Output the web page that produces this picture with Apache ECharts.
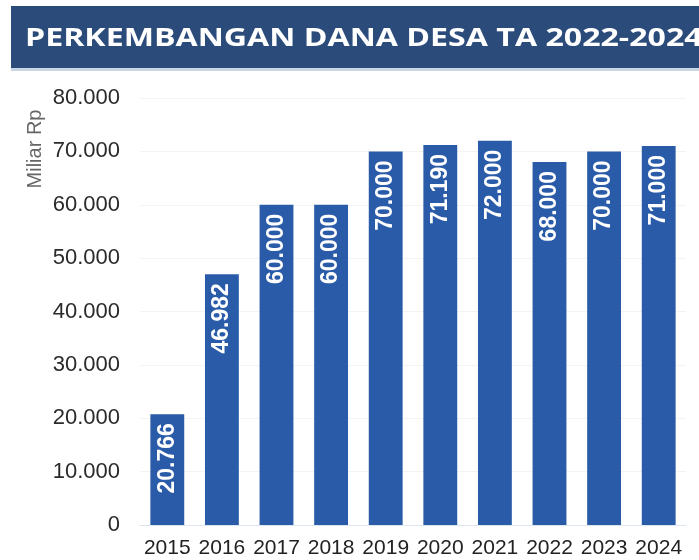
<!DOCTYPE html>
<html><head><meta charset="utf-8">
<script src="https://cdn.jsdelivr.net/npm/echarts@6/dist/echarts.min.js"></script>
<style>html,body{margin:0;padding:0;background:#fff}#c{width:699px;height:560px}</style>
</head><body><div id="c"></div>
<script>
const titleText = 'PERKEMBANGAN DANA DESA TA 2022-2024';
const yAxisName = 'Miliar Rp';
const years = ['2015','2016','2017','2018','2019','2020','2021','2022','2023','2024'];
const danaDesa = [20766, 46982, 60000, 60000, 70000, 71190, 72000, 68000, 70000, 71000];
const yTicks = [0, 10000, 20000, 30000, 40000, 50000, 60000, 70000, 80000];

function fmt(v){ return String(v).replace(/\B(?=(\d{3})+(?!\d))/g, '.'); }

const chart = echarts.init(document.getElementById('c'));
chart.setOption({
  animation: false,
  graphic: [
    { type: 'rect', x: 11, y: 6, shape: { width: 700, height: 62 }, style: { fill: '#2B4C7B' }, z: 0 },
    { type: 'rect', x: 11, y: 68, shape: { width: 700, height: 3 }, style: { fill: '#c9d6e6' }, z: 0 },
    { type: 'text', x: 25, y: 39, scaleX: 1.285, z: 1,
      style: { text: titleText, fill: '#ffffff', font: 'bold 25px "Open Sans", sans-serif', align: 'left', verticalAlign: 'middle' } },
    { type: 'text', x: 35, y: 149, rotation: Math.PI/2,
      style: { text: yAxisName, fill: '#666', font: '20px "Liberation Sans", Arial, sans-serif', align: 'center', verticalAlign: 'middle' } }
  ],
  grid: { left: 140, right: 13, top: 98, bottom: 35 },
  xAxis: {
    type: 'category', data: years,
    axisTick: { show: false },
    axisLine: { lineStyle: { color: '#dde6ee' } },
    axisLabel: { color: '#222', fontSize: 21, fontFamily: 'Liberation Sans, Arial, sans-serif', margin: 13, interval: 0 }
  },
  yAxis: {
    type: 'value', min: yTicks[0], max: yTicks[yTicks.length-1], interval: 10000,
    axisLabel: { color: '#2a2a2a', fontSize: 22, fontFamily: 'Liberation Sans, Arial, sans-serif', margin: 20, formatter: fmt },
    splitLine: { lineStyle: { color: '#f3f3f0' } }
  },
  series: [{
    type: 'bar', data: danaDesa, barCategoryGap: '38%',
    itemStyle: { color: '#2A5BA8' },
    label: {
      show: true, position: 'insideTop', rotate: 90, align: 'right', verticalAlign: 'middle', distance: 9,
      color: '#fff', fontWeight: 'bold', fontSize: 23, fontFamily: 'Liberation Sans, Arial, sans-serif',
      formatter: p => fmt(p.value)
    }
  }]
});
</script></body></html>
